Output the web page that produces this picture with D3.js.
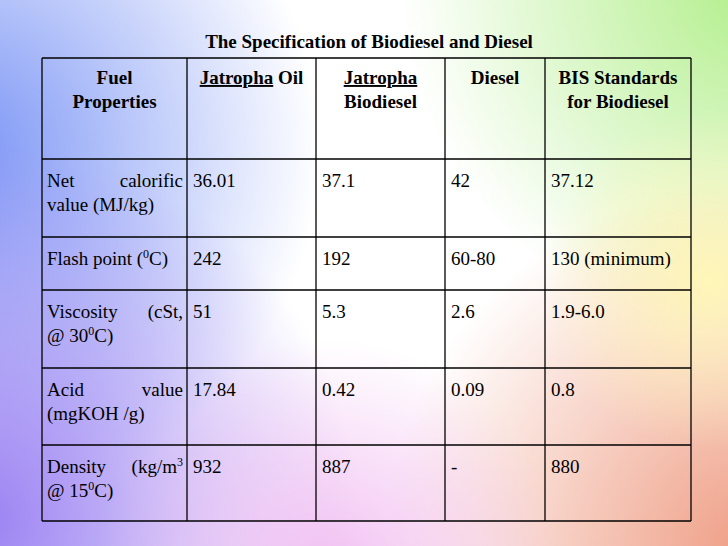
<!DOCTYPE html>
<html>
<head>
<meta charset="utf-8">
<script src="https://cdn.jsdelivr.net/npm/d3@7"></script>
<style>
  body { margin: 0; }
  svg { display: block; font-family: "Liberation Serif", "Times New Roman", serif; }
</style>
</head>
<body>
<svg id="chart" width="728" height="546"></svg>
<script>
// Table content ("^" marks a superscript)
var title = "The Specification of Biodiesel and Diesel";
var headers = [
  ["Fuel", "Properties"],
  ["Jatropha Oil"],
  ["Jatropha", "Biodiesel"],
  ["Diesel"],
  ["BIS Standards", "for Biodiesel"]
];
var properties = [
  ["Net calorific", "value (MJ/kg)"],
  ["Flash point (^0C)"],
  ["Viscosity (cSt,", "@ 30^0C)"],
  ["Acid value", "(mgKOH /g)"],
  ["Density (kg/m^3", "@ 15^0C)"]
];
var jatrophaOil = ["36.01", "242", "51", "17.84", "932"];
var jatrophaBiodiesel = ["37.1", "192", "5.3", "0.42", "887"];
var diesel = ["42", "60-80", "2.6", "0.09", "-"];
var bisStandards = ["37.12", "130 (minimum)", "1.9-6.0", "0.8", "880"];

var colEdges = [42, 187, 316, 445, 545, 691];
var rowEdges = [58, 159, 237, 290, 368, 445, 521];

var svg = d3.select("#chart");
var defs = svg.append("defs");

function radial(id, cx, cy, r, color) {
  var g = defs.append("radialGradient").attr("id", id)
    .attr("gradientUnits", "userSpaceOnUse")
    .attr("cx", cx).attr("cy", cy).attr("r", r);
  g.append("stop").attr("offset", 0).attr("stop-color", color).attr("stop-opacity", 1);
  g.append("stop").attr("offset", 1).attr("stop-color", color).attr("stop-opacity", 0);
}
radial("gBlue", -40, 150, 360, "#7a94f5");
radial("gPurple", -20, 520, 380, "#9a80f2");
radial("gGreen", 760, -20, 360, "#b0ee88");
radial("gPeach", 760, 560, 380, "#ee9a80");
radial("gYellow", 710, 280, 170, "#fff6b8");
radial("gPink", 330, 570, 230, "#f2c0f2");

svg.append("rect").attr("width", 728).attr("height", 546).attr("fill", "#ffffff");
["gBlue", "gPurple", "gGreen", "gPeach", "gYellow", "gPink"].forEach(function(id) {
  svg.append("rect").attr("width", 728).attr("height", 546).attr("fill", "url(#" + id + ")");
});

svg.append("text").attr("x", 369).attr("y", 48).attr("text-anchor", "middle")
  .attr("font-weight", "bold").attr("font-size", 19).text(title);

var g = svg.append("g").attr("stroke", "#000").attr("stroke-width", 1.3);
colEdges.forEach(function(x) {
  g.append("line").attr("x1", x).attr("x2", x).attr("y1", rowEdges[0]).attr("y2", rowEdges[rowEdges.length - 1]);
});
rowEdges.forEach(function(y) {
  g.append("line").attr("x1", colEdges[0]).attr("x2", colEdges[colEdges.length - 1]).attr("y1", y).attr("y2", y);
});

var fs = 19, lh = 24;

// writes text, turning "^x" into a superscript x
function rich(t, s) {
  var parts = s.split("^");
  t.append("tspan").text(parts[0]);
  parts.slice(1).forEach(function(p) {
    t.append("tspan").attr("dy", -7).attr("font-size", 12).text(p[0]);
    t.append("tspan").attr("dy", 7).text(p.slice(1));
  });
}

headers.forEach(function(lines, c) {
  var cx = (colEdges[c] + colEdges[c + 1]) / 2;
  lines.forEach(function(line, i) {
    var t = svg.append("text").attr("x", cx).attr("y", rowEdges[0] + 26 + i * lh)
      .attr("text-anchor", "middle").attr("font-weight", "bold").attr("font-size", fs);
    if (line.indexOf("Jatropha") === 0) {
      t.append("tspan").attr("text-decoration", "underline").text("Jatropha");
      t.append("tspan").text(line.slice(8));
    } else t.text(line);
  });
});

var columns = [jatrophaOil, jatrophaBiodiesel, diesel, bisStandards];
properties.forEach(function(lines, r) {
  var top = rowEdges[r + 1];
  lines.forEach(function(line, i) {
    var y = top + 28 + i * lh;
    if (i === 0 && lines.length > 1) {
      // justified first line
      var parts = line.split(" ");
      var first = parts.shift(), rest = parts.join(" ");
      svg.append("text").attr("x", colEdges[0] + 5).attr("y", y).attr("font-size", fs).text(first);
      rich(svg.append("text").attr("x", colEdges[1] - 4).attr("y", y).attr("text-anchor", "end").attr("font-size", fs), rest);
    } else {
      rich(svg.append("text").attr("x", colEdges[0] + 5).attr("y", y).attr("font-size", fs), line);
    }
  });
  columns.forEach(function(col, c) {
    svg.append("text").attr("x", colEdges[c + 1] + 6).attr("y", top + 28)
      .attr("font-size", fs).text(col[r]);
  });
});
</script>
</body>
</html>
